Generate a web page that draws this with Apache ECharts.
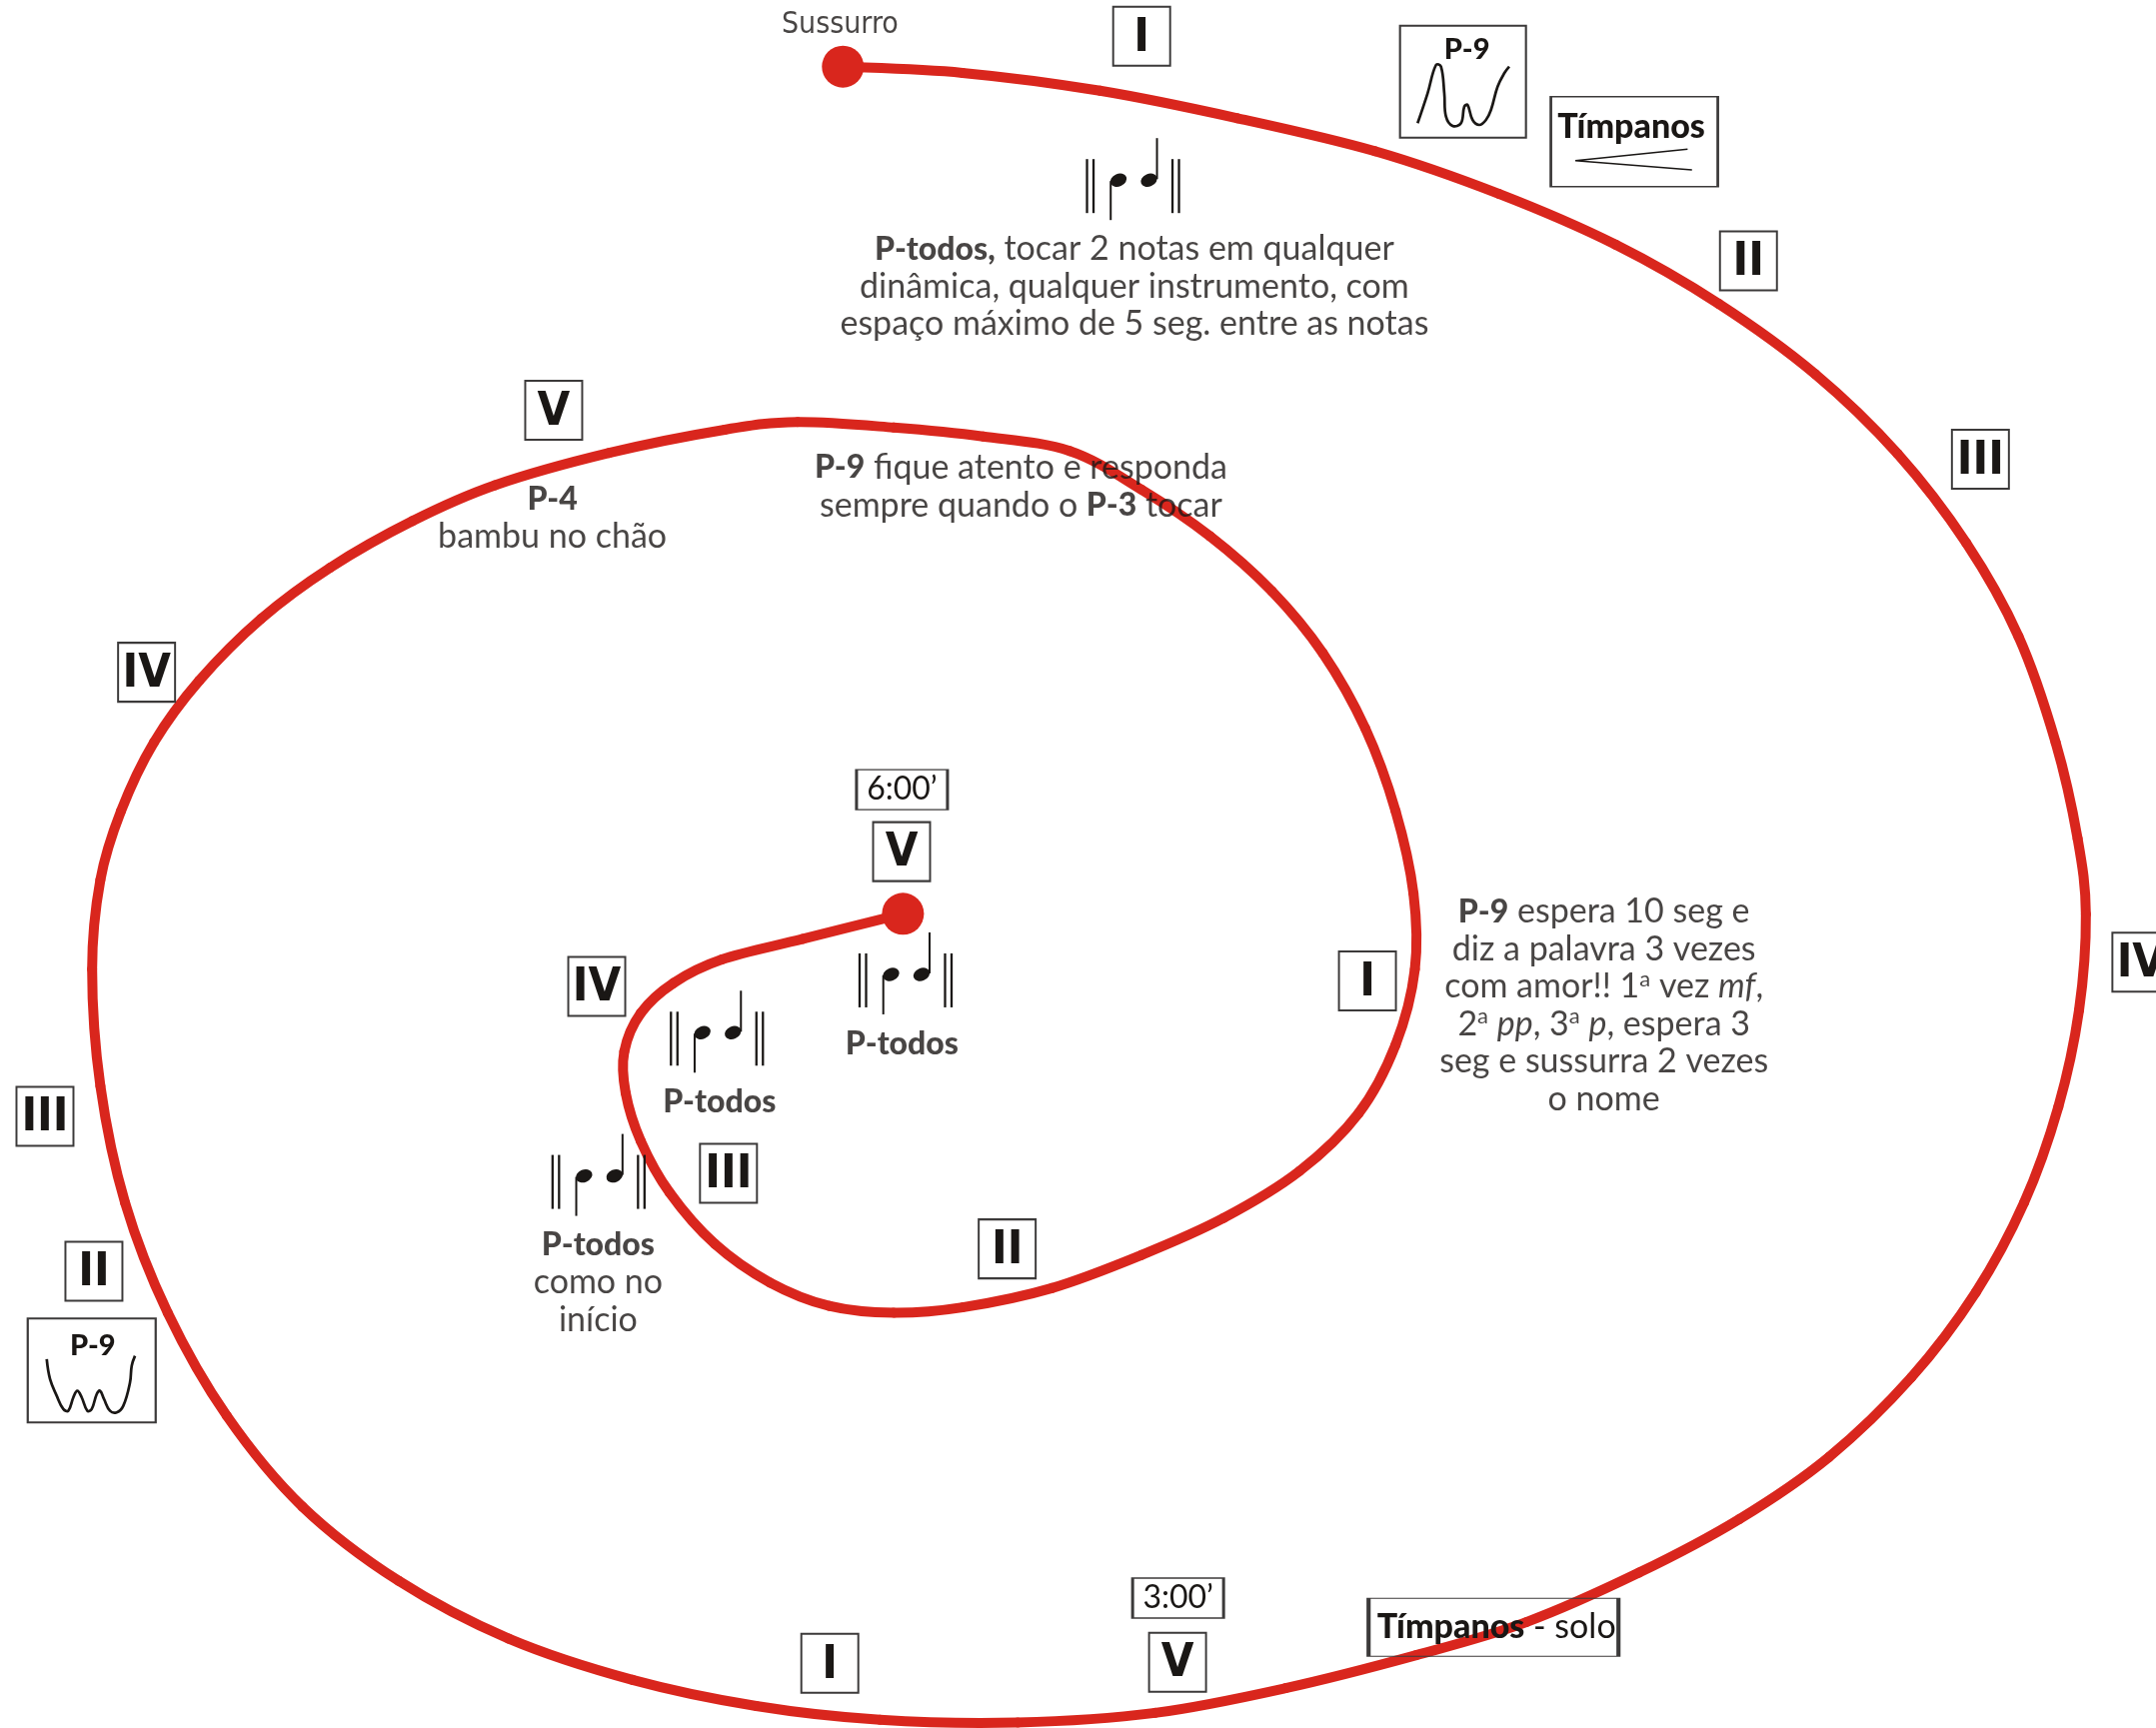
<!DOCTYPE html>
<html>
<head>
<meta charset="utf-8">
<script src="https://cdn.jsdelivr.net/npm/echarts@6/dist/echarts.min.js"></script>
<style>
html,body{margin:0;padding:0;background:#fff;}
#c{width:2157px;height:1729px;}
</style>
</head>
<body>
<div id="c"></div>
<script>
// ---------- data (in page units of a 1568 x 1257 sheet) ----------
const spiralPath = [
  [613,48.5],[700,53],[800,66],[900,86],[1000,110],[1090,141],[1175,178],[1250,221],[1320,272],
  [1380,330],[1430,395],[1468,463],[1495,540],[1511,610],[1517,665],[1512,735],[1497,805],
  [1472,875],[1437,940],[1390,1002],[1330,1060],[1265,1105],[1192,1144],[1110,1180],[1030,1204],
  [935,1228],[840,1246],[740,1253],[640,1251],[550,1241],[460,1222],[370,1192],[290,1150],
  [220,1096],[165,1030],[122,955],[91,875],[73,790],[67,705],[73,640],[88,590],[112,540],[145,495],
  [190,450],[240,413],[300,379],[360,353],[443,329.5],[527,312.6],[580,307],[650,311],[715,317.5],[778,328],
  [830,356],[880,390],[925,430],[962,475],[993,530],[1015,590],[1028,650],[1029,705],[1015,760],
  [988,810],[945,852],[890,886],[830,913],[765,937],[700,951],[650,955],[603,950],[560,933],
  [520,905],[487,867.5],[466,830],[455,795],[454,765],[466,737],[490,715],[525,698],[584,683],[656.7,664.7]
];
const startDot = [613, 48.5];
const endDot = [656.7, 664.7];

const numeralBoxes = [
  ['I', 830.3, 26.4], ['II', 1271.6, 189.8], ['III', 1440.3, 334], ['IV', 1557, 700],
  ['V', 402.7, 298.5], ['IV', 106.6, 489], ['III', 32.7, 812], ['II', 68.3, 924.8],
  ['I', 603.5, 1210], ['V', 856.4, 1209.2], ['I', 994.5, 713.5], ['V', 655.7, 619.5],
  ['IV', 434, 717.5], ['III', 529.8, 853.5], ['II', 732.5, 908.5]
];
const timeBoxes = [['6:00’', 656, 574.4], ['3:00’', 856.8, 1162.5]];
const noteGroups = [[824, 131], [658.6, 708.8], [521.4, 751.2], [435.3, 855.4]];
const p9Boxes = [[1064, 59.4], [66.7, 996.9]];
const timpaniBox = [1188.6, 103];
const timpaniSoloBox = [1086.2, 1183.8];
const whisperLabel = ['Sussurro', 610.9, 18];
const textNotes = [
  ['{b|P-todos,} tocar 2 notas em qualquer\ndinâmica, qualquer instrumento, com\nespaço máximo de 5 seg. entre as notas', 825, 208.6],
  ['{b|P-9} fique atento e responda\nsempre quando o {b|P-3} tocar', 742.5, 354],
  ['{b|P-4}\nbambu no chão', 401.7, 377],
  ['{b|P-9} espera 10 seg e\ndiz a palavra 3 vezes\ncom amor!! 1{sup|a} vez {i|mf},\n2{sup|a} {i|pp}, 3{sup|a} {i|p}, espera 3\nseg e sussurra 2 vezes\no nome', 1166.5, 731.5],
  ['{b|P-todos}', 656, 759.6],
  ['{b|P-todos}', 523.2, 801.9],
  ['{b|P-todos}\ncomo no\ninício', 435, 933]
];

// ---------- glyph shapes (pixel offsets from their anchor) ----------
const SQUIGGLE_TOP = [[-45.4,41.6],[-35.4,11.6],[-27,-16.7],[-22,-15],[-18.7,11.6],[-17,35],[-10.4,44.3],[-2,41.6],[1.3,25],[4.6,23.3],[9.6,38.3],[16.3,43.3],[23,38.3],[28,28.3],[34.6,5],[41.3,-8.4],[46.3,-15]];
const SQUIGGLE_LOW = [[-45,-11.3],[-41.7,8.7],[-35,25.4],[-28.4,38.7],[-23.4,40.4],[-18.4,27],[-14.4,20.4],[-10,27],[-4.4,40.4],[0,38.7],[5,23.7],[8.3,20.4],[12.3,28.7],[18.3,40.4],[25,42],[31.6,35.4],[38.3,12],[40,-4.6],[43.3,-14.6]];
const HAIRPIN = [[53.3,7.6],[-59,19],[57.7,28.3]];

const INK = '#1a1715';
const RED = '#d9261d';
const BOXLINE = '#3c3a3a';
const SANS = "Lato, 'Open Sans', 'Noto Sans', sans-serif";
const NARROW = "'Liberation Sans Narrow', 'DejaVu Sans Condensed', 'Liberation Sans', sans-serif";
const FS = 34, LH = 37.5;

const rich = {
  b: {fontFamily: SANS, fontWeight: 900, fontSize: 32, lineHeight: LH, color: INK},
  i: {fontFamily: SANS, fontStyle: 'italic', fontSize: FS, lineHeight: LH, color: INK},
  sup: {fontFamily: SANS, fontSize: 22, lineHeight: 24, verticalAlign: 'top', color: INK}
};

const chart = echarts.init(document.getElementById('c'), null, {renderer: 'canvas'});

// smooth curve through the spiral points (Catmull-Rom segments drawn as bezier curves)
function spiralRender(params, api) {
  const i = params.dataIndexInside;
  const n = params.dataInsideLength;
  if (i >= n - 1) return null;
  const P = k => {
    k = Math.max(0, Math.min(n - 1, k));
    return api.coord([api.value(0, k), api.value(1, k)]);
  };
  const p0 = P(i - 1), p1 = P(i), p2 = P(i + 1), p3 = P(i + 2);
  return {
    type: 'bezierCurve',
    shape: {
      x1: p1[0], y1: p1[1], x2: p2[0], y2: p2[1],
      cpx1: p1[0] + (p2[0] - p0[0]) / 6, cpy1: p1[1] + (p2[1] - p0[1]) / 6,
      cpx2: p2[0] - (p3[0] - p1[0]) / 6, cpy2: p2[1] - (p3[1] - p1[1]) / 6
    },
    style: {stroke: RED, lineWidth: 10, fill: null, lineCap: 'round'}
  };
}

function noteRender(params, api) {
  const c = api.coord([api.value(0), api.value(1)]);
  const x = c[0], y = c[1];
  const ln = (x1, y1, x2, y2, w) => ({type: 'line', shape: {x1: x + x1, y1: y + y1, x2: x + x2, y2: y + y2}, style: {stroke: INK, lineWidth: w}});
  const head = (dx) => ({type: 'circle', shape: {cx: 0, cy: 0, r: 6.3}, x: x + dx, y: y, scaleX: 1.35, rotation: 0.4, style: {fill: INK}});
  return {type: 'group', children: [
    ln(-46, -21, -46, 33, 2.3), ln(-39.5, -21, -39.5, 33, 2.3),
    ln(39.5, -21, 39.5, 33, 2.3), ln(46, -21, 46, 33, 2.3),
    ln(-22.3, 1, -22.3, 40, 2), ln(24, -42, 24, -1, 2),
    head(-14.5), head(16)
  ]};
}

function glyphRender(shapes, width, smooth) {
  return function (params, api) {
    const c = api.coord([api.value(0), api.value(1)]);
    const pts = shapes[params.dataIndex].map(p => [c[0] + p[0], c[1] + p[1]]);
    return {type: 'polyline', shape: {points: pts, smooth: smooth}, style: {stroke: INK, lineWidth: width, fill: null}};
  };
}

const boxStyle = {color: 'rgba(255,255,255,0)', borderColor: BOXLINE, borderWidth: 2, opacity: 1};

chart.setOption({
  animation: false,
  backgroundColor: '#ffffff',
  grid: {left: 0, right: 0, top: 0, bottom: 0},
  xAxis: {type: 'value', min: 0, max: 1568, show: false},
  yAxis: {type: 'value', min: 0, max: 1257, inverse: true, show: false},
  series: [
    {type: 'custom', data: spiralPath, renderItem: spiralRender, silent: true, z: 2},
    {type: 'scatter', data: [startDot, endDot], symbolSize: 42, silent: true, z: 3, itemStyle: {color: RED, opacity: 1}},
    {type: 'scatter', z: 4, silent: true, symbol: 'rect', symbolSize: [57, 59], itemStyle: boxStyle,
     data: numeralBoxes.map(d => ({name: d[0], value: [d[1], d[2]]})),
     label: {show: true, position: 'inside', formatter: '{b}', fontFamily: NARROW, fontWeight: 'bold', fontSize: 47, color: INK, offset: [0, 2]}},
    {type: 'scatter', z: 4, silent: true, symbol: 'rect', symbolSize: [91, 40], itemStyle: boxStyle,
     data: timeBoxes.map(d => ({name: d[0], value: [d[1], d[2]]})),
     label: {show: true, position: 'inside', formatter: '{b}', fontFamily: SANS, fontSize: 32, color: INK}},
    {type: 'scatter', z: 4, silent: true, symbol: 'rect', symbolSize: [126, 112], itemStyle: boxStyle,
     data: [p9Boxes[0]],
     label: {show: true, position: 'inside', formatter: 'P-9', fontFamily: SANS, fontWeight: 900, fontSize: 29, color: INK, offset: [4, -32]}},
    {type: 'scatter', z: 4, silent: true, symbol: 'rect', symbolSize: [128, 104], itemStyle: boxStyle,
     data: [p9Boxes[1]],
     label: {show: true, position: 'inside', formatter: 'P-9', fontFamily: SANS, fontWeight: 900, fontSize: 29, color: INK, offset: [1, -25]}},
    {type: 'scatter', z: 4, silent: true, symbol: 'rect', symbolSize: [167, 90], itemStyle: boxStyle,
     data: [timpaniBox],
     label: {show: true, position: 'inside', formatter: 'Tímpanos', fontFamily: SANS, fontWeight: 900, fontSize: 34, color: INK, offset: [-3, -15]}},
    {type: 'scatter', z: 4, silent: true, symbol: 'rect', symbolSize: [250, 58], itemStyle: boxStyle,
     data: [timpaniSoloBox],
     label: {show: true, position: 'inside', formatter: '{bb|Tímpanos} - solo', fontFamily: SANS, fontSize: FS, color: INK,
             rich: Object.assign({bb: {fontFamily: SANS, fontWeight: 900, fontSize: 34, color: INK}}, rich), offset: [3, 0]}},
    {type: 'scatter', z: 5, silent: true, symbolSize: 1, itemStyle: {color: 'rgba(0,0,0,0)'},
     data: [{name: whisperLabel[0], value: [whisperLabel[1], whisperLabel[2]]}],
     label: {show: true, position: 'inside', formatter: '{b}', fontFamily: NARROW, fontSize: 30, color: INK}},
    {type: 'scatter', z: 5, silent: true, symbolSize: 1, itemStyle: {color: 'rgba(0,0,0,0)'},
     data: textNotes.map(d => ({name: d[0], value: [d[1], d[2]]})),
     label: {show: true, position: 'inside', formatter: p => p.name, fontFamily: SANS, fontSize: FS, lineHeight: LH,
             align: 'center', color: INK, rich: rich}},
    {type: 'custom', z: 5, silent: true, data: noteGroups, renderItem: noteRender},
    {type: 'custom', z: 5, silent: true, data: p9Boxes, renderItem: glyphRender([SQUIGGLE_TOP, SQUIGGLE_LOW], 2.7, 0.4)},
    {type: 'custom', z: 5, silent: true, data: [timpaniBox], renderItem: glyphRender([HAIRPIN], 1.6, 0)}
  ]
});
</script>
</body>
</html>
